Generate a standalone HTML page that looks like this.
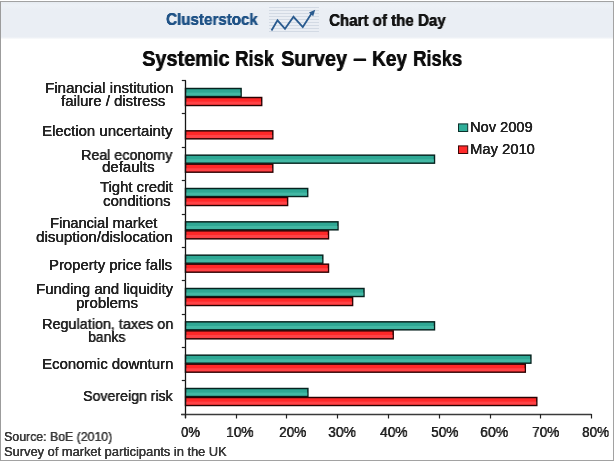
<!DOCTYPE html>
<html><head><meta charset="utf-8"><style>
html,body{margin:0;padding:0;}
body{width:615px;height:462px;position:relative;overflow:hidden;background:#fff;font-family:"Liberation Sans",sans-serif;}
.t{position:absolute;white-space:nowrap;transform-origin:0 0;will-change:transform;text-shadow:0.22px 0 0 currentColor,0 0.15px 0 currentColor;}
#hdr{position:absolute;left:1px;top:2px;width:612px;height:37px;background:linear-gradient(#e6ebf1 0px,#edf1f6 3px,#eaeef4 8px,#eaeef4 35px,#f3f5f8 36px,#fafbfc 37px);}
#fr{position:absolute;left:0;top:1px;width:612px;height:458px;border:1px solid #a2a2a2;border-left-color:#9c9c9c;}
svg{position:absolute;left:0;top:0;}
</style></head><body>
<div id="hdr"></div>
<svg width="615" height="462" viewBox="0 0 615 462">
<line x1="269" y1="7.5" x2="319" y2="7.5" stroke="#d3dae4" stroke-width="1"/>
<line x1="269" y1="10.5" x2="319" y2="10.5" stroke="#d3dae4" stroke-width="1"/>
<line x1="269" y1="13.5" x2="319" y2="13.5" stroke="#d3dae4" stroke-width="1"/>
<line x1="269" y1="16.5" x2="319" y2="16.5" stroke="#d3dae4" stroke-width="1"/>
<line x1="269" y1="19.5" x2="319" y2="19.5" stroke="#d3dae4" stroke-width="1"/>
<line x1="269" y1="22.5" x2="319" y2="22.5" stroke="#d3dae4" stroke-width="1"/>
<line x1="269" y1="25.5" x2="319" y2="25.5" stroke="#d3dae4" stroke-width="1"/>
<line x1="269" y1="28.5" x2="319" y2="28.5" stroke="#d3dae4" stroke-width="1"/>
<line x1="269" y1="31.5" x2="319" y2="31.5" stroke="#d3dae4" stroke-width="1"/>
<polyline points="271.5,30.5 277.5,20.3 285,28.8 293.5,16.8 302.8,27 311.5,13.5" fill="none" stroke="#2a5b8f" stroke-width="1.8" stroke-linejoin="miter"/>
<polygon points="315.2,9.8 309,12.6 313.2,16.2" fill="#2a5b8f"/>
<rect x="185.5" y="88.500" width="55.60" height="8" fill="#2ea894" stroke="#06221e" stroke-width="1.45"/>
<rect x="186" y="92.600" width="54.60" height="3" fill="#56c4b0" opacity="0.55"/>
<rect x="185.5" y="97.500" width="76.20" height="8" fill="#ff2828" stroke="#2a0202" stroke-width="1.45"/>
<rect x="186" y="101.600" width="75.20" height="3" fill="#ff5a60" opacity="0.55"/>
<rect x="185.5" y="130.833" width="87.30" height="8" fill="#ff2828" stroke="#2a0202" stroke-width="1.45"/>
<rect x="186" y="134.933" width="86.30" height="3" fill="#ff5a60" opacity="0.55"/>
<rect x="185.5" y="155.166" width="249.00" height="8" fill="#2ea894" stroke="#06221e" stroke-width="1.45"/>
<rect x="186" y="159.266" width="248.00" height="3" fill="#56c4b0" opacity="0.55"/>
<rect x="185.5" y="164.166" width="87.30" height="8" fill="#ff2828" stroke="#2a0202" stroke-width="1.45"/>
<rect x="186" y="168.266" width="86.30" height="3" fill="#ff5a60" opacity="0.55"/>
<rect x="185.5" y="188.499" width="122.20" height="8" fill="#2ea894" stroke="#06221e" stroke-width="1.45"/>
<rect x="186" y="192.599" width="121.20" height="3" fill="#56c4b0" opacity="0.55"/>
<rect x="185.5" y="197.499" width="102.10" height="8" fill="#ff2828" stroke="#2a0202" stroke-width="1.45"/>
<rect x="186" y="201.599" width="101.10" height="3" fill="#ff5a60" opacity="0.55"/>
<rect x="185.5" y="221.832" width="152.50" height="8" fill="#2ea894" stroke="#06221e" stroke-width="1.45"/>
<rect x="186" y="225.932" width="151.50" height="3" fill="#56c4b0" opacity="0.55"/>
<rect x="185.5" y="230.832" width="143.00" height="8" fill="#ff2828" stroke="#2a0202" stroke-width="1.45"/>
<rect x="186" y="234.932" width="142.00" height="3" fill="#ff5a60" opacity="0.55"/>
<rect x="185.5" y="255.165" width="137.30" height="8" fill="#2ea894" stroke="#06221e" stroke-width="1.45"/>
<rect x="186" y="259.265" width="136.30" height="3" fill="#56c4b0" opacity="0.55"/>
<rect x="185.5" y="264.165" width="143.00" height="8" fill="#ff2828" stroke="#2a0202" stroke-width="1.45"/>
<rect x="186" y="268.265" width="142.00" height="3" fill="#ff5a60" opacity="0.55"/>
<rect x="185.5" y="288.498" width="178.50" height="8" fill="#2ea894" stroke="#06221e" stroke-width="1.45"/>
<rect x="186" y="292.598" width="177.50" height="3" fill="#56c4b0" opacity="0.55"/>
<rect x="185.5" y="297.498" width="167.10" height="8" fill="#ff2828" stroke="#2a0202" stroke-width="1.45"/>
<rect x="186" y="301.598" width="166.10" height="3" fill="#ff5a60" opacity="0.55"/>
<rect x="185.5" y="321.831" width="249.00" height="8" fill="#2ea894" stroke="#06221e" stroke-width="1.45"/>
<rect x="186" y="325.931" width="248.00" height="3" fill="#56c4b0" opacity="0.55"/>
<rect x="185.5" y="330.831" width="207.70" height="8" fill="#ff2828" stroke="#2a0202" stroke-width="1.45"/>
<rect x="186" y="334.931" width="206.70" height="3" fill="#ff5a60" opacity="0.55"/>
<rect x="185.5" y="355.164" width="345.40" height="8" fill="#2ea894" stroke="#06221e" stroke-width="1.45"/>
<rect x="186" y="359.264" width="344.40" height="3" fill="#56c4b0" opacity="0.55"/>
<rect x="185.5" y="364.164" width="339.80" height="8" fill="#ff2828" stroke="#2a0202" stroke-width="1.45"/>
<rect x="186" y="368.264" width="338.80" height="3" fill="#ff5a60" opacity="0.55"/>
<rect x="185.5" y="388.497" width="122.40" height="8" fill="#2ea894" stroke="#06221e" stroke-width="1.45"/>
<rect x="186" y="392.597" width="121.40" height="3" fill="#56c4b0" opacity="0.55"/>
<rect x="185.5" y="397.497" width="351.30" height="8" fill="#ff2828" stroke="#2a0202" stroke-width="1.45"/>
<rect x="186" y="401.597" width="350.30" height="3" fill="#ff5a60" opacity="0.55"/>
<line x1="185.5" y1="80.5" x2="185.5" y2="418" stroke="#151515" stroke-width="1.3"/>
<line x1="181.8" y1="80.5" x2="186" y2="80.5" stroke="#222" stroke-width="1.2"/>
<line x1="181.8" y1="113.5" x2="186" y2="113.5" stroke="#222" stroke-width="1.2"/>
<line x1="181.8" y1="147.5" x2="186" y2="147.5" stroke="#222" stroke-width="1.2"/>
<line x1="181.8" y1="180.5" x2="186" y2="180.5" stroke="#222" stroke-width="1.2"/>
<line x1="181.8" y1="214.5" x2="186" y2="214.5" stroke="#222" stroke-width="1.2"/>
<line x1="181.8" y1="247.5" x2="186" y2="247.5" stroke="#222" stroke-width="1.2"/>
<line x1="181.8" y1="280.5" x2="186" y2="280.5" stroke="#222" stroke-width="1.2"/>
<line x1="181.8" y1="314.5" x2="186" y2="314.5" stroke="#222" stroke-width="1.2"/>
<line x1="181.8" y1="347.5" x2="186" y2="347.5" stroke="#222" stroke-width="1.2"/>
<line x1="181.8" y1="380.5" x2="186" y2="380.5" stroke="#222" stroke-width="1.2"/>
<line x1="181.8" y1="414.5" x2="186" y2="414.5" stroke="#222" stroke-width="1.2"/>
<line x1="181" y1="414.5" x2="591.5" y2="414.5" stroke="#3a3a3a" stroke-width="1.3"/>
<line x1="185.5" y1="414" x2="185.5" y2="418.5" stroke="#222" stroke-width="1.2"/>
<line x1="236.5" y1="414" x2="236.5" y2="418.5" stroke="#222" stroke-width="1.2"/>
<line x1="286.5" y1="414" x2="286.5" y2="418.5" stroke="#222" stroke-width="1.2"/>
<line x1="337.5" y1="414" x2="337.5" y2="418.5" stroke="#222" stroke-width="1.2"/>
<line x1="388.5" y1="414" x2="388.5" y2="418.5" stroke="#222" stroke-width="1.2"/>
<line x1="439.5" y1="414" x2="439.5" y2="418.5" stroke="#222" stroke-width="1.2"/>
<line x1="490.5" y1="414" x2="490.5" y2="418.5" stroke="#222" stroke-width="1.2"/>
<line x1="540.5" y1="414" x2="540.5" y2="418.5" stroke="#222" stroke-width="1.2"/>
<line x1="591.5" y1="414" x2="591.5" y2="418.5" stroke="#222" stroke-width="1.2"/>
<rect x="458.5" y="123.9" width="9.2" height="7.6" fill="#2fae99" stroke="#0c2f2a" stroke-width="1"/>
<rect x="458.5" y="145.9" width="9.2" height="7.6" fill="#ff2a2a" stroke="#3b0606" stroke-width="1"/>
</svg>
<div class="t" style="left:45.12px;top:80.82px;font-size:14.5px;line-height:14.5px;color:#222222;transform:scaleX(1.0415)">Financial institution</div>
<div class="t" style="left:60.50px;top:94.42px;font-size:14.5px;line-height:14.5px;color:#222222;transform:scaleX(1.0269)">failure / distress</div>
<div class="t" style="left:41.53px;top:123.82px;font-size:14.5px;line-height:14.5px;color:#222222;transform:scaleX(1.0310)">Election uncertainty</div>
<div class="t" style="left:81.09px;top:147.52px;font-size:14.5px;line-height:14.5px;color:#222222;transform:scaleX(0.9841)">Real economy</div>
<div class="t" style="left:101.83px;top:160.32px;font-size:14.5px;line-height:14.5px;color:#222222;transform:scaleX(1.0345)">defaults</div>
<div class="t" style="left:99.97px;top:180.42px;font-size:14.5px;line-height:14.5px;color:#222222;transform:scaleX(1.0210)">Tight credit</div>
<div class="t" style="left:103.43px;top:194.02px;font-size:14.5px;line-height:14.5px;color:#222222;transform:scaleX(1.0344)">conditions</div>
<div class="t" style="left:49.56px;top:215.62px;font-size:14.5px;line-height:14.5px;color:#222222;transform:scaleX(1.0077)">Financial market</div>
<div class="t" style="left:35.63px;top:230.02px;font-size:14.5px;line-height:14.5px;color:#222222;transform:scaleX(1.0470)">disuption/dislocation</div>
<div class="t" style="left:49.04px;top:257.82px;font-size:14.5px;line-height:14.5px;color:#222222;transform:scaleX(1.0246)">Property price falls</div>
<div class="t" style="left:35.63px;top:282.12px;font-size:14.5px;line-height:14.5px;color:#222222;transform:scaleX(1.0305)">Funding and liquidity</div>
<div class="t" style="left:75.86px;top:295.82px;font-size:14.5px;line-height:14.5px;color:#222222;transform:scaleX(1.0382)">problems</div>
<div class="t" style="left:41.58px;top:317.12px;font-size:14.5px;line-height:14.5px;color:#222222;transform:scaleX(0.9927)">Regulation, taxes on</div>
<div class="t" style="left:87.93px;top:329.92px;font-size:14.5px;line-height:14.5px;color:#222222;transform:scaleX(0.9616)">banks</div>
<div class="t" style="left:42.23px;top:357.42px;font-size:14.5px;line-height:14.5px;color:#222222;transform:scaleX(1.0311)">Economic downturn</div>
<div class="t" style="left:82.86px;top:389.02px;font-size:14.5px;line-height:14.5px;color:#222222;transform:scaleX(0.9755)">Sovereign risk</div>
<div class="t" style="left:181.19px;top:423.93px;font-size:15.2px;line-height:15.2px;color:#222222;transform:scaleX(0.8555)">0%</div>
<div class="t" style="left:226.34px;top:423.93px;font-size:15.2px;line-height:15.2px;color:#222222;transform:scaleX(0.9063)">10%</div>
<div class="t" style="left:278.56px;top:423.93px;font-size:15.2px;line-height:15.2px;color:#222222;transform:scaleX(0.8955)">20%</div>
<div class="t" style="left:328.27px;top:423.93px;font-size:15.2px;line-height:15.2px;color:#222222;transform:scaleX(0.9154)">30%</div>
<div class="t" style="left:380.09px;top:423.93px;font-size:15.2px;line-height:15.2px;color:#222222;transform:scaleX(0.9047)">40%</div>
<div class="t" style="left:430.67px;top:423.93px;font-size:15.2px;line-height:15.2px;color:#222222;transform:scaleX(0.9019)">50%</div>
<div class="t" style="left:480.24px;top:423.93px;font-size:15.2px;line-height:15.2px;color:#222222;transform:scaleX(0.9263)">60%</div>
<div class="t" style="left:531.96px;top:423.93px;font-size:15.2px;line-height:15.2px;color:#222222;transform:scaleX(0.8955)">70%</div>
<div class="t" style="left:582.28px;top:423.93px;font-size:15.2px;line-height:15.2px;color:#222222;transform:scaleX(0.8883)">80%</div>
<div class="t" style="left:470.36px;top:120.05px;font-size:14.0px;line-height:14.0px;color:#222222;transform:scaleX(1.0434)">Nov 2009</div>
<div class="t" style="left:469.85px;top:141.55px;font-size:14.0px;line-height:14.0px;color:#222222;transform:scaleX(1.0543)">May 2010</div>
<div class="t" style="left:141.99px;top:48.70px;font-size:21.5px;line-height:21.5px;color:#0d0d0d;font-weight:bold;text-shadow:0.5px 0 0 currentColor,0 0.30px 0 currentColor;transform:scaleX(0.9247)">Systemic</div>
<div class="t" style="left:235.45px;top:48.70px;font-size:21.5px;line-height:21.5px;color:#0d0d0d;font-weight:bold;text-shadow:0.5px 0 0 currentColor,0 0.30px 0 currentColor;transform:scaleX(0.8551)">Risk</div>
<div class="t" style="left:281.49px;top:48.70px;font-size:21.5px;line-height:21.5px;color:#0d0d0d;font-weight:bold;text-shadow:0.5px 0 0 currentColor,0 0.30px 0 currentColor;transform:scaleX(0.9187)">Survey</div>
<div class="t" style="left:352.92px;top:48.70px;font-size:21.5px;line-height:21.5px;color:#0d0d0d;font-weight:bold;text-shadow:0.5px 0 0 currentColor,0 0.30px 0 currentColor;transform:scaleX(1.1185)">–</div>
<div class="t" style="left:371.61px;top:48.70px;font-size:21.5px;line-height:21.5px;color:#0d0d0d;font-weight:bold;text-shadow:0.5px 0 0 currentColor,0 0.30px 0 currentColor;transform:scaleX(0.8840)">Key</div>
<div class="t" style="left:413.35px;top:48.70px;font-size:21.5px;line-height:21.5px;color:#0d0d0d;font-weight:bold;text-shadow:0.5px 0 0 currentColor,0 0.30px 0 currentColor;transform:scaleX(0.8521)">Risks</div>
<div class="t" style="left:165.73px;top:12.19px;font-size:15.6px;line-height:15.6px;color:#1f5286;font-weight:bold;text-shadow:0.3px 0 0 currentColor,0 0.18px 0 currentColor;transform:scaleX(0.9712)">Clusterstock</div>
<div class="t" style="left:329.03px;top:12.99px;font-size:15.6px;line-height:15.6px;color:#141414;font-weight:bold;text-shadow:0.3px 0 0 currentColor,0 0.18px 0 currentColor;transform:scaleX(0.9684)">Chart of the Day</div>
<div class="t" style="left:4.01px;top:430.90px;font-size:12.4px;line-height:12.4px;color:#3a3a3a;transform:scaleX(0.9937)">Source: BoE (2010)</div>
<div class="t" style="left:4.00px;top:446.10px;font-size:12.4px;line-height:12.4px;color:#3a3a3a;transform:scaleX(1.0363)">Survey of market participants in the UK</div>
<div id="fr"></div>
</body></html>
